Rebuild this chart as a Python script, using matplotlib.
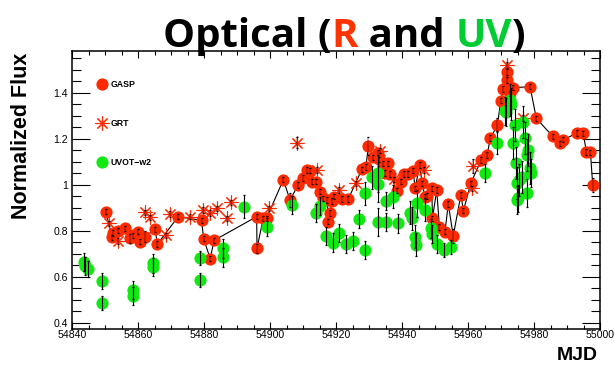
import numpy as np
import matplotlib
matplotlib.use("Agg")
import matplotlib.pyplot as plt
from matplotlib.ticker import MultipleLocator, FuncFormatter

# ---------------- data ----------------
gasp_mjd = [54850.2, 54852.0, 54852.2, 54854.0, 54856.0, 54857.5, 54858.5, 54860.0,
            54860.5, 54862.0, 54865.1, 54865.8, 54872.1, 54879.2, 54879.8, 54881.8,
            54883.0, 54895.9, 54896.0, 54897.9, 54898.9, 54904.0, 54906.0, 54908.5,
            54910.0, 54911.1, 54912.1, 54912.6, 54913.9, 54915.1, 54915.9, 54917.3,
            54917.6, 54918.2, 54918.7, 54919.2, 54921.7, 54923.7, 54927.8, 54929.0,
            54929.8, 54931.3, 54932.8, 54933.1, 54934.1, 54934.8, 54935.8, 54936.3,
            54938.4, 54939.6, 54940.6, 54941.9, 54943.4, 54943.9, 54945.4, 54946.0,
            54947.0, 54947.6, 54949.0, 54949.2, 54950.5, 54951.3, 54953.0, 54954.0,
            54955.5, 54957.8, 54958.6, 54960.8, 54964.0, 54965.8, 54966.7, 54968.9,
            54969.9, 54970.7, 54971.8, 54971.9, 54972.7, 54973.7, 54978.8, 54980.7,
            54985.7, 54988.0, 54988.9, 54993.0, 54994.9, 54995.9, 54997.1, 54997.8]
gasp_flux = [0.883, 0.771, 0.789, 0.800, 0.810, 0.767, 0.780, 0.796,
             0.752, 0.774, 0.806, 0.742, 0.861, 0.845, 0.766, 0.679,
             0.758, 0.861, 0.723, 0.854, 0.854, 1.022, 0.933, 0.999,
             1.028, 1.064, 1.061, 1.013, 1.013, 0.970, 0.941, 0.933,
             0.839, 0.876, 0.930, 0.948, 0.938, 0.938, 1.067, 1.078,
             1.168, 1.119, 1.139, 1.110, 1.093, 1.050, 1.093, 1.047,
             0.974, 1.013, 1.047, 1.047, 1.061, 0.984, 1.086, 1.006,
             0.948, 0.951, 0.984, 0.854, 0.977, 0.817, 0.796, 0.916,
             0.777, 0.955, 0.887, 1.006, 1.107, 1.129, 1.202, 1.258,
             1.366, 1.415, 1.491, 1.455, 1.397, 1.422, 1.426, 1.288,
             1.210, 1.180, 1.196, 1.224, 1.223, 1.143, 1.140, 0.997]
gasp_err = [0.012] * len(gasp_mjd)
gasp_err[5] = 0.02
gasp_err[9] = 0.025
gasp_err[18] = 0.02
gasp_err[22] = 0.03
gasp_err[40] = 0.04
gasp_err[64] = 0.03
gasp_err[71] = 0.03
gasp_err[87] = 0.03

grt_mjd = [54851.2, 54854.0, 54862.0, 54863.6, 54868.4, 54869.6, 54875.7, 54879.5,
           54881.8, 54883.8, 54886.8, 54888.1, 54899.7, 54908.0, 54914.1, 54921.0,
           54926.0, 54933.3, 54937.5, 54946.6, 54961.1, 54961.6, 54971.9, 54976.8]
grt_flux = [0.832, 0.756, 0.880, 0.858, 0.780, 0.873, 0.861, 0.890,
            0.876, 0.897, 0.854, 0.923, 0.897, 1.183, 1.064, 0.977,
            1.006, 1.148, 1.023, 1.064, 0.984, 1.081, 1.520, 1.289]
grt_err = [0.012, 0.012, 0.012, 0.012, 0.012, 0.012, 0.012, 0.012,
           0.012, 0.012, 0.012, 0.012, 0.012, 0.025, 0.012, 0.012,
           0.012, 0.012, 0.012, 0.012, 0.012, 0.03, 0.012, 0.012]

uvot_mjd = [54843.6, 54844.0, 54844.9, 54848.9, 54848.9, 54858.5, 54858.5, 54864.6,
            54864.6, 54878.7, 54878.7, 54885.6, 54885.6, 54892.1, 54898.9, 54906.5,
            54913.9, 54915.1, 54917.0, 54919.0, 54921.0, 54923.0, 54925.0, 54927.0,
            54928.8, 54928.8, 54930.8, 54932.8, 54932.8, 54932.8, 54935.1, 54935.1,
            54937.1, 54938.8, 54942.4, 54942.9, 54943.9, 54944.2, 54944.4, 54946.9,
            54948.7, 54949.0, 54950.5, 54952.7, 54954.7, 54965.1, 54968.9, 54971.2,
            54971.5, 54972.7, 54972.9, 54973.7, 54974.2, 54974.5, 54974.7, 54974.9,
            54975.2, 54975.5, 54976.3, 54976.8, 54977.3, 54977.8, 54977.8, 54978.3,
            54978.8, 54979.0]
uvot_flux = [0.665, 0.646, 0.632, 0.583, 0.487, 0.542, 0.516, 0.658,
             0.641, 0.680, 0.586, 0.723, 0.684, 0.904, 0.815, 0.912,
             0.876, 0.907, 0.777, 0.748, 0.789, 0.742, 0.756, 0.850,
             0.716, 0.963, 1.032, 1.050, 1.003, 0.839, 0.839, 0.930,
             0.948, 0.832, 0.878, 0.854, 0.774, 0.738, 0.919, 0.890,
             0.810, 0.786, 0.742, 0.716, 0.728, 1.052, 1.183, 1.320,
             1.317, 1.368, 1.350, 1.180, 1.260, 1.093, 0.933, 1.006,
             0.940, 1.020, 1.035, 1.274, 1.202, 1.129, 0.963, 1.151,
             1.071, 1.050]
uvot_err = [0.04, 0.04, 0.035, 0.035, 0.03, 0.04, 0.04, 0.04,
            0.04, 0.03, 0.03, 0.04, 0.04, 0.05, 0.04, 0.04,
            0.04, 0.04, 0.04, 0.04, 0.04, 0.04, 0.04, 0.04,
            0.04, 0.05, 0.05, 0.08, 0.08, 0.06, 0.04, 0.04,
            0.05, 0.04, 0.05, 0.05, 0.05, 0.05, 0.06, 0.05,
            0.04, 0.04, 0.04, 0.03, 0.03, 0.04, 0.05, 0.06,
            0.06, 0.07, 0.07, 0.07, 0.07, 0.07, 0.06, 0.07,
            0.06, 0.07, 0.07, 0.07, 0.07, 0.07, 0.06, 0.07,
            0.07, 0.06]

legend_labels = ["GASP", "GRT", "UVOT\u2212w2"]
title_parts = [("Optical (", "black"), ("R", "#ff3300"), (" and ", "black"),
               ("UV", "#00cc33"), (")", "black")]

RED = "#ff2a00"
GREEN = "#12e812"
MS = 8.8

# ---------------- figure ----------------
W, H, DPI = 614, 365, 100
fig = plt.figure(figsize=(W / DPI, H / DPI), dpi=DPI)
ax = fig.add_axes([72.3 / W, 1 - 329 / H, (600 - 72.3) / W, (329 - 50.7) / H])

ax.set_xlim(54840, 55000)
ax.set_ylim(0.3726, 1.5826)

# connecting line through the GASP points
ax.plot(gasp_mjd, gasp_flux, color="black", lw=0.8, zorder=2)
ax.plot(gasp_mjd, gasp_flux, "o", ms=MS, color=RED, mec=RED, mew=0, zorder=3)
ax.plot(grt_mjd, grt_flux, marker=(8, 2, 0), ls="none", ms=10, color=RED,
        mec=RED, mew=0.8, zorder=4)
ax.plot(uvot_mjd, uvot_flux, "o", ms=MS, color=GREEN, mec=GREEN, mew=0, zorder=5)

# small optical errors: mostly just the end marks; UV errors as full bars
for xs, ys, es, lw in [(gasp_mjd, gasp_flux, gasp_err, 0.35),
                       (grt_mjd, grt_flux, grt_err, 0.35),
                       (uvot_mjd, uvot_flux, uvot_err, 0.8)]:
    ax.errorbar(xs, ys, yerr=es, fmt="none", ecolor="black", elinewidth=lw,
                capsize=0.8, capthick=0.9, zorder=6)

# legend drawn by hand inside the frame
leg_y = [0.880, 0.739, 0.599]
ax.plot([0.0557], [leg_y[0]], "o", ms=MS, color=RED, mew=0, transform=ax.transAxes,
        clip_on=False)
ax.plot([0.0557], [leg_y[1]], marker=(8, 2, 0), ms=10, color=RED, mec=RED, mew=0.8,
        transform=ax.transAxes, clip_on=False)
ax.plot([0.0557], [leg_y[2]], "o", ms=MS, color=GREEN, mew=0, transform=ax.transAxes,
        clip_on=False)
for yy, lab in zip(leg_y, legend_labels):
    ax.text(0.0728, yy, lab, transform=ax.transAxes, ha="left", va="center",
            fontsize=6.3, fontweight="bold", family="Liberation Sans")

# axes styling
for sp in ax.spines.values():
    sp.set_linewidth(1.1)
ax.xaxis.set_major_locator(MultipleLocator(20))
ax.xaxis.set_minor_locator(MultipleLocator(5))
ax.yaxis.set_major_locator(MultipleLocator(0.2))
ax.yaxis.set_minor_locator(MultipleLocator(0.05))
ax.yaxis.set_major_formatter(FuncFormatter(lambda v, p: f"{v:g}"))
ax.xaxis.set_major_formatter(FuncFormatter(lambda v, p: f"{v:.0f}"))
ax.tick_params(which="both", direction="in", top=True, right=True, width=0.8,
               labelsize=7.6)
ax.tick_params(axis="x", which="major", length=5.2, pad=0.8)
ax.tick_params(axis="x", which="minor", length=2.6)
ax.tick_params(axis="y", which="major", length=13, pad=3)
ax.tick_params(axis="y", which="minor", length=6.5)
for lab in ax.get_xticklabels() + ax.get_yticklabels():
    lab.set_family("Liberation Sans")

fig.text(22 / W, 1 - 53 / H, "Normalized Flux", rotation=90, ha="center", va="top",
         fontsize=15.5, fontweight="bold", family="Liberation Sans")
fig.text(598 / W, 1 - 360 / H, "MJD", ha="right", va="baseline",
         fontsize=14, fontweight="bold", family="Liberation Sans")

# multi-coloured title, pieces placed one after the other
fig.canvas.draw()
rend = fig.canvas.get_renderer()
tfont = dict(family="Open Sans", fontweight="bold")


def text_width(s, size):
    t = fig.text(0, 0, s, fontsize=size, **tfont)
    w = t.get_window_extent(rend).width
    t.remove()
    return w


full = "".join(p for p, _ in title_parts)
base = 30.0
size = base * 362.0 / text_width(full, base)
x0 = 163.0
base_y = 1 - 47.0 / H
sentinel_w = text_width("|", size)
prefix = ""
for piece, col in title_parts:
    off = text_width(prefix + "|", size) - sentinel_w if prefix else 0.0
    fig.text((x0 + off) / W, base_y, piece, color=col, fontsize=size, ha="left",
             va="baseline", **tfont)
    prefix += piece

fig.savefig("out.png", dpi=DPI)
